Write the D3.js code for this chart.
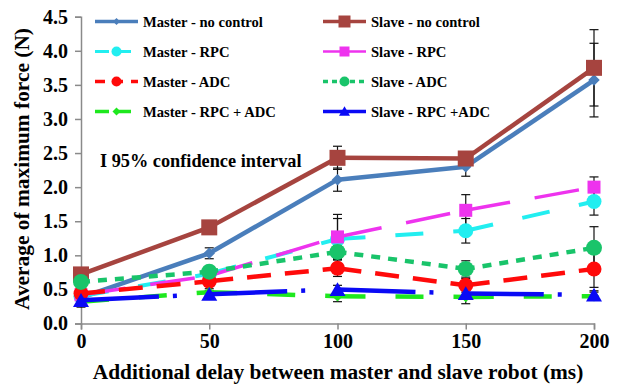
<!DOCTYPE html>
<html>
<head>
<meta charset="utf-8">
<script src="https://cdn.jsdelivr.net/npm/d3@7"></script>
<style>
  html, body { margin: 0; padding: 0; background: #fff; }
  svg { display: block; }
  text { font-family: "Liberation Serif", "Times New Roman", serif; font-weight: bold; fill: #000; }
</style>
</head>
<body>
<svg id="chart" width="618" height="388" font-family="Liberation Serif"></svg>
<script>
// Delay settings on the x axis (ms)
const delays = [0, 50, 100, 150, 200];
const yTicks = [0, 0.5, 1.0, 1.5, 2.0, 2.5, 3.0, 3.5, 4.0, 4.5];

// Average of maximum force (N) per series
const masterNoControl = [0.38, 1.03, 2.11, 2.30, 3.57];
const slaveNoControl  = [0.72, 1.41, 2.43, 2.42, 3.75];
const masterRPC       = [0.40, 0.73, 1.24, 1.36, 1.79];
const slaveRPC        = [0.42, 0.70, 1.27, 1.66, 2.00];
const masterADC       = [0.44, 0.62, 0.81, 0.56, 0.80];
const slaveADC        = [0.61, 0.76, 1.05, 0.80, 1.11];
const masterRPCADC    = [0.32, 0.46, 0.40, 0.39, 0.40];
const slaveRPCADC     = [0.34, 0.43, 0.50, 0.44, 0.42];

// Half-widths of the 95% confidence intervals
const masterNoControlCI = [0.05, 0.08, 0.17, 0.14, 0.54];
const slaveNoControlCI  = [0.04, 0.05, 0.17, 0.05, 0.56];
const masterRPCCI       = [0.05, 0.05, 0.30, 0.18, 0.20];
const slaveRPCCI        = [0.05, 0.05, 0.33, 0.23, 0.15];
const masterADCCI       = [0.05, 0.06, 0.12, 0.10, 0.27];
const slaveADCCI        = [0.05, 0.06, 0.10, 0.12, 0.31];
const masterRPCADCCI    = [0.08, 0.05, 0.08, 0.10, 0.06];
const slaveRPCADCCI     = [0.05, 0.05, 0.06, 0.06, 0.06];

const seriesNames = [
  "Master - no control", "Slave - no control",
  "Master - RPC", "Slave - RPC",
  "Master - ADC", "Slave - ADC",
  "Master - RPC + ADC", "Slave - RPC +ADC"
];

const series = [
  { name: seriesNames[0], values: masterNoControl, ci: masterNoControlCI, color: "#4a7ebb", width: 4.5, dash: null,          legendDash: null,   marker: "diamond",  size: 13, legendSize: 8 },
  { name: seriesNames[1], values: slaveNoControl,  ci: slaveNoControlCI,  color: "#a6443f", width: 4.5, dash: null,          legendDash: null,   marker: "square",   size: 16, legendSize: 12 },
  { name: seriesNames[2], values: masterRPC,       ci: masterRPCCI,       color: "#22eef0", width: 4,   dash: "28,30",       legendDash: "14,8", marker: "circle",   size: 15, legendSize: 10 },
  { name: seriesNames[3], values: slaveRPC,        ci: slaveRPCCI,        color: "#ee33ee", width: 3.5, dash: "45,25",       legendDash: null,   marker: "square",   size: 13, legendSize: 10 },
  { name: seriesNames[4], values: masterADC,       ci: masterADCCI,       color: "#ff0a0a", width: 4.5, dash: "24,14",       legendDash: "10,8", marker: "circle",   size: 15, legendSize: 10 },
  { name: seriesNames[5], values: slaveADC,        ci: slaveADCCI,        color: "#19c46a", width: 4.5, dash: "9,8",         legendDash: "5,4",  marker: "circle",   size: 16, legendSize: 10 },
  { name: seriesNames[6], values: masterRPCADC,    ci: masterRPCADCCI,    color: "#1ee81e", width: 4.5, dash: "28,30",       legendDash: "14,8", marker: "diamond",  size: 12, legendSize: 9 },
  { name: seriesNames[7], values: slaveRPCADC,     ci: slaveRPCADCCI,     color: "#0a0af5", width: 4.5, dash: "78,14,4,32",  legendDash: null,   marker: "triangle", size: 16, legendSize: 11 }
];

const svg = d3.select("#chart");
const x = d3.scaleLinear().domain([0, 200]).range([81, 594]);
const y = d3.scaleLinear().domain([0, 4.5]).range([323.5, 16.7]);

const axisColor = "#8a8a8a";
const serif = '"Liberation Serif", "Times New Roman", serif';

// Axes
const yAxis = svg.append("g")
  .attr("transform", `translate(${x(0)},0)`)
  .call(d3.axisLeft(y).tickValues(yTicks).tickFormat(d3.format(".1f")).tickSize(6).tickPadding(7));
const xAxis = svg.append("g")
  .attr("transform", `translate(0,${y(0)})`)
  .call(d3.axisBottom(x).tickValues(delays).tickFormat(d3.format("d")).tickSize(6));

[yAxis, xAxis].forEach(g => {
  g.attr("font-family", serif).attr("font-size", 20);
  g.select(".domain").attr("stroke", axisColor).attr("stroke-width", 1.5);
  g.selectAll(".tick line").attr("stroke", axisColor).attr("stroke-width", 1.5);
  g.selectAll(".tick text")
    .attr("fill", "#000")
    .style("font-family", serif)
    .style("font-weight", "bold")
    .style("font-size", "20px");
});
xAxis.selectAll(".tick text").attr("y", 24).attr("dy", 0);

// Axis titles
svg.append("text")
  .attr("x", 338).attr("y", 379)
  .attr("text-anchor", "middle")
  .style("font-size", "21.4px")
  .text("Additional delay between master and slave robot (ms)");

svg.append("text")
  .attr("transform", "translate(29,169) rotate(-90)")
  .attr("text-anchor", "middle")
  .style("font-size", "21.4px")
  .text("Average of maximum force (N)");

// Marker shapes
function markerPath(type, size) {
  const symbolType = {
    diamond: d3.symbolDiamond2,
    square: d3.symbolSquare,
    circle: d3.symbolCircle,
    triangle: d3.symbolTriangle
  }[type];
  let area;
  if (type === "circle") area = Math.PI * (size / 2) * (size / 2);
  else if (type === "square") area = size * size;
  else if (type === "diamond") area = size * size / 2;
  else area = size * size * Math.sqrt(3) / 4;
  return d3.symbol().type(symbolType).size(area)();
}

// Confidence-interval bars (drawn beneath the series)
const errLayer = svg.append("g");
series.forEach(s => {
  s.values.forEach((v, i) => {
    const cx = x(delays[i]);
    const y1 = y(v + s.ci[i]), y2 = y(v - s.ci[i]);
    errLayer.append("line").attr("x1", cx).attr("x2", cx).attr("y1", y1).attr("y2", y2)
      .attr("stroke", "#111").attr("stroke-width", 1.2);
    [y1, y2].forEach(yy => errLayer.append("line")
      .attr("x1", cx - 4.5).attr("x2", cx + 4.5).attr("y1", yy).attr("y2", yy)
      .attr("stroke", "#111").attr("stroke-width", 1.2));
  });
});

// Series lines and markers, one segment at a time so each dash pattern restarts at a point
series.forEach(s => {
  const g = svg.append("g");
  const pts = s.values.map((v, i) => [x(delays[i]), y(v)]);
  for (let i = 0; i < pts.length - 1; i++) {
    g.append("path")
      .attr("d", d3.line()([pts[i], pts[i + 1]]))
      .attr("fill", "none")
      .attr("stroke", s.color)
      .attr("stroke-width", s.width)
      .attr("stroke-dasharray", s.dash)
      .attr("stroke-linejoin", "round");
  }
  g.selectAll("path.mk").data(pts).join("path")
    .attr("class", "mk")
    .attr("transform", d => `translate(${d[0]},${d[1] + (s.marker === "triangle" ? 2 : 0)})`)
    .attr("d", markerPath(s.marker, s.size))
    .attr("fill", s.color);
});

// Legend in two columns
const legendCols = [{ lineX0: 95, lineX1: 138, textX: 143 }, { lineX0: 323, lineX1: 366, textX: 371 }];
series.forEach((s, i) => {
  const col = legendCols[i % 2];
  const row = Math.floor(i / 2);
  const ly = 21.5 + row * 30;
  const g = svg.append("g");
  g.append("line")
    .attr("x1", col.lineX0).attr("x2", col.lineX1).attr("y1", ly).attr("y2", ly)
    .attr("stroke", s.color).attr("stroke-width", s.width - 1)
    .attr("stroke-dasharray", s.legendDash);
  g.append("path")
    .attr("transform", `translate(${(col.lineX0 + col.lineX1) / 2},${ly + (s.marker === "triangle" ? 1 : 0)})`)
    .attr("d", markerPath(s.marker, s.legendSize))
    .attr("fill", s.color);
  g.append("text")
    .attr("x", col.textX).attr("y", ly + 5)
    .style("font-size", "14.6px")
    .text(s.name);
});

// Confidence-interval note
svg.append("text")
  .attr("x", 100).attr("y", 167)
  .style("font-size", "18.3px")
  .text("I 95% confidence interval");
</script>
</body>
</html>
